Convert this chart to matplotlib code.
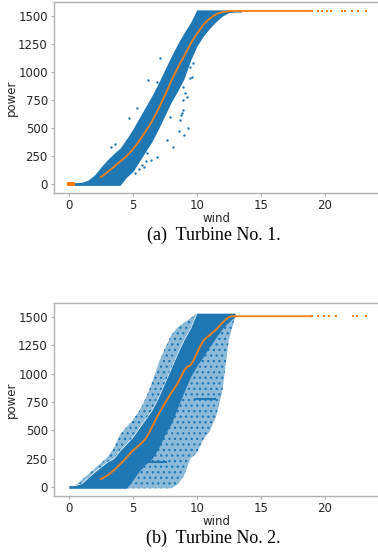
import matplotlib
matplotlib.use("Agg")
import matplotlib.pyplot as plt

# colores
BLUE = '#1f77b4'
ORANGE = '#ff7f0e'

# ---------------- Turbina 1 ----------------
# nube de puntos (borde inferior y superior de la zona densa)
band1_wind = [0.3, 0.5, 1.0, 1.5, 2.0, 2.5, 3.0, 3.5, 4.0, 4.5, 5.0, 5.5, 6.0, 6.5,
              7.0, 7.5, 8.0, 8.5, 9.0, 9.5, 10.0, 10.5, 11.0, 11.5, 12.0, 12.5, 13.0, 13.5]
band1_high = [12, 12, 15, 35, 80, 150, 215, 270, 320, 400, 490, 590, 690, 790,
              900, 1020, 1140, 1250, 1350, 1440, 1555, 1555, 1555, 1555, 1555, 1555, 1555, 1555]
band1_low = [-12, -12, -12, -12, -12, -12, -12, -12, -12, 60, 110, 200, 290, 380,
             490, 610, 730, 830, 940, 1100, 1230, 1320, 1390, 1450, 1500, 1530, 1535, 1535]

# puntos sueltos fuera de la banda
out1_wind = [4.55, 4.68, 5.32, 6.22, 6.87, 7.13, 7.9, 7.65, 8.16, 6.87, 6.1, 6.4, 5.84,
             8.81, 8.94, 9.2, 9.59, 9.46, 9.46, 8.94, 9.07, 8.94, 8.8, 8.68, 9.7,
             3.3, 3.6, 5.2, 5.5, 5.7, 6.0, 9.3, 9.0, 8.6]
out1_power = [393, 586, 676, 929, 913, 1122, 601, 393, 333, 244, 274, 214, 155,
              631, 750, 780, 958, 1048, 943, 869, 810, 661, 616, 571, 1077,
              330, 360, 100, 130, 170, 210, 500, 440, 470]

# curva media (naranja)
mean1_wind = [0.0, 0.1, 0.2, 0.3]
mean1_zero = [0, 0, 0, 0]
curve1_wind = [2.5, 2.75, 3.0, 3.25, 3.5, 3.75, 4.0, 4.25, 4.5, 4.75, 5.0, 5.25, 5.5, 5.75,
               6.0, 6.25, 6.5, 6.75, 7.0, 7.25, 7.5, 7.75, 8.0, 8.25, 8.5, 8.75, 9.0, 9.25,
               9.5, 9.75, 10.0, 10.25, 10.5, 10.75, 11.0, 11.25, 11.5, 11.75, 12.0, 12.25,
               12.5, 12.75, 13.0, 13.5, 14.0, 14.5, 15.0, 15.5, 16.0, 16.5, 17.0, 17.5,
               18.0, 18.5, 18.9]
curve1_power = [62, 82, 105, 128, 150, 176, 200, 222, 248, 278, 310, 345, 385, 428,
                470, 515, 560, 615, 670, 730, 790, 855, 920, 978, 1035, 1090, 1140, 1195,
                1250, 1295, 1340, 1380, 1420, 1450, 1475, 1497, 1515, 1527, 1535, 1540,
                1543, 1545, 1545, 1545, 1545, 1545, 1545, 1545, 1545, 1545, 1545, 1545,
                1545, 1545, 1545]
tail1_wind = [19.0, 19.5, 19.8, 20.2, 20.5, 21.3, 21.6, 22.1, 22.6, 23.2]
tail1_power = [1545, 1545, 1545, 1545, 1545, 1545, 1545, 1545, 1545, 1545]

# ---------------- Turbina 2 ----------------
band2_wind = [0.0, 0.5, 1.0, 1.5, 2.0, 2.5, 3.0, 3.5, 4.0, 4.5, 5.0, 5.5, 6.0, 6.5,
              7.0, 7.5, 8.0, 8.5, 9.0, 9.5, 10.0, 10.5, 11.0, 11.5, 12.0, 12.5, 13.0]
# borde superior de la zona densa
band2_high = [12, 12, 30, 80, 130, 175, 220, 250, 320, 380, 440, 520, 600, 680,
              790, 920, 1050, 1180, 1300, 1400, 1535, 1535, 1535, 1535, 1535, 1535, 1535]
# borde superior de los puntos dispersos
band2_outer = [12, 12, 60, 110, 160, 210, 260, 340, 460, 530, 590, 670, 780, 920,
               1090, 1220, 1340, 1410, 1450, 1490, 1535, 1535, 1535, 1535, 1535, 1535, 1535]
# borde inferior de la zona densa
band2_low = [-12, -12, -12, -12, -12, -12, -12, -12, -12, -12, 60, 140, 200, 250,
             340, 460, 560, 700, 840, 970, 1070, 1150, 1240, 1320, 1400, 1460, 1505]
# borde inferior/derecho de la zona dispersa
band2_edge = [-12, -12, -12, -12, -12, -12, -12, -12, -12, -12, -12, -12, -12, -12,
              -12, -12, -12, 20, 100, 250, 300, 420, 490, 620, 850, 1300, 1505]

# franjas horizontales dentro de la nube
stripe2_power = [220, 776]
stripe2_start = [5.7, 9.8]
stripe2_end = [7.65, 11.5]

curve2_wind = [2.5, 2.75, 3.0, 3.25, 3.5, 3.75, 4.0, 4.25, 4.5, 4.75, 5.0, 5.25, 5.5, 5.75,
               6.0, 6.25, 6.5, 6.75, 7.0, 7.25, 7.5, 7.75, 8.0, 8.25, 8.5, 8.75, 9.0, 9.25,
               9.5, 9.75, 10.0, 10.25, 10.5, 10.75, 11.0, 11.25, 11.5, 11.75, 12.0, 12.25,
               12.5, 12.75, 13.0, 13.5, 14.0, 14.5, 15.0, 15.5, 16.0, 16.5, 17.0, 17.5,
               18.0, 18.5, 18.9]
curve2_power = [70, 85, 100, 122, 145, 172, 200, 228, 258, 290, 320, 345, 370, 395,
                425, 475, 530, 585, 640, 690, 740, 785, 830, 870, 915, 970, 1030, 1060,
                1075, 1120, 1180, 1240, 1290, 1320, 1340, 1365, 1390, 1420, 1450, 1478,
                1500, 1508, 1508, 1508, 1508, 1508, 1508, 1508, 1508, 1508, 1508, 1508,
                1508, 1508, 1508]
tail2_wind = [19.0, 19.5, 19.9, 20.3, 20.9, 22.2, 22.5, 23.2]
tail2_power = [1508, 1508, 1508, 1508, 1508, 1508, 1508, 1508]

x_ticks = [0, 5, 10, 15, 20]
y_ticks = [0, 250, 500, 750, 1000, 1250, 1500]
captions = ['(a)  Turbine No. 1.', '(b)  Turbine No. 2.']

plt.rcParams['hatch.linewidth'] = 0.9

fig = plt.figure(figsize=(3.78, 5.54), dpi=100)
ax1 = fig.add_axes([0.143, 0.6516, 0.857, 0.3448])
ax2 = fig.add_axes([0.143, 0.1047, 0.857, 0.3484])

# turbina 1
ax1.fill_between(band1_wind, band1_low, band1_high, color=BLUE, lw=0)
ax1.scatter(out1_wind, out1_power, s=3, color=BLUE, lw=0)
ax1.scatter(mean1_wind, mean1_zero, s=5, color=ORANGE, marker='s', lw=0)
ax1.plot(curve1_wind, curve1_power, color=ORANGE, lw=1.3)
ax1.scatter(tail1_wind, tail1_power, s=4, color=ORANGE, marker='s', lw=0)

# turbina 2 (zona dispersa en trama de puntos, zona densa en color)
for top, bottom in [(band2_outer, band2_high), (band2_low, band2_edge)]:
    ax2.fill_between(band2_wind, bottom, top, facecolor=BLUE, alpha=0.5, lw=0)
    ax2.fill_between(band2_wind, bottom, top, facecolor='none', edgecolor=BLUE,
                     hatch='...', lw=0)
ax2.hlines(stripe2_power, stripe2_start, stripe2_end, color=BLUE, lw=1.5)
ax2.fill_between(band2_wind, band2_low, band2_high, color=BLUE, lw=0)
ax2.plot(curve2_wind, curve2_power, color=ORANGE, lw=1.3)
ax2.scatter(tail2_wind, tail2_power, s=4, color=ORANGE, marker='s', lw=0)

for ax, cap in zip([ax1, ax2], captions):
    ax.set_xlim(-1.15, 24.15)
    ax.set_ylim(-80, 1625)
    ax.set_xticks(x_ticks)
    ax.set_yticks(y_ticks)
    ax.tick_params(labelsize=8.5, labelcolor='#262626', color='#b0b0b0', length=2.5, width=0.8, pad=2)
    for side in ['left', 'top', 'bottom']:
        ax.spines[side].set_color('#b0b0b0')
        ax.spines[side].set_linewidth(1.0)
    ax.spines['right'].set_visible(False)
    ax.set_xlabel('wind', fontsize=8.5, color='#262626', labelpad=0)
    ax.set_ylabel('power', fontsize=8.5, color='#262626', labelpad=0)

fig.text(0.565, 1 - 235 / 554, captions[0], ha='center', va='center', fontsize=13, family='Liberation Serif')
fig.text(0.565, 1 - 538 / 554, captions[1], ha='center', va='center', fontsize=13, family='Liberation Serif')

fig.savefig('out.png', dpi=100)
